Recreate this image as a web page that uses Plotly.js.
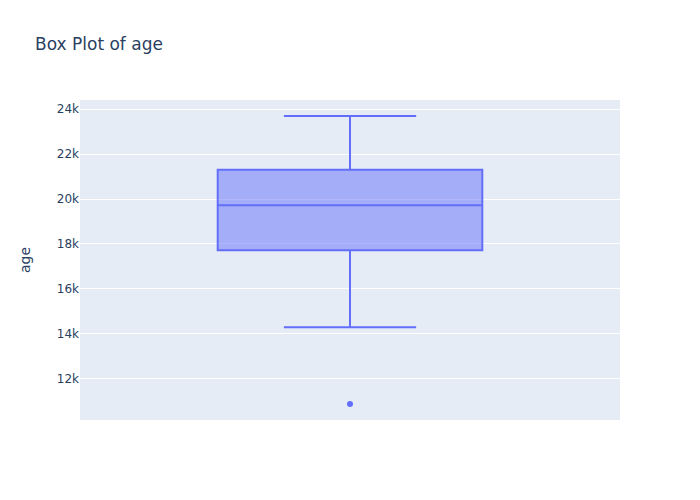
<!DOCTYPE html>
<html>
<head>
<meta charset="utf-8">
<script src="https://cdn.plot.ly/plotly-3.0.1.min.js"></script>
<style>html,body{margin:0;padding:0;background:#fff;}</style>
</head>
<body>
<div id="chart" style="width:700px;height:500px;"></div>
<script>
const lowerFence = [14290];
const q1 = [17720];
const median = [19720];
const q3 = [21300];
const upperFence = [23700];
const outliers = [[10870]];

const trace = {
  type: 'box',
  name: '',
  x0: ' ',
  q1: q1,
  median: median,
  q3: q3,
  lowerfence: lowerFence,
  upperfence: upperFence,
  y: outliers,
  boxpoints: 'all',
  jitter: 0,
  pointpos: 0,
  marker: {color: '#636efa'},
  line: {color: '#636efa'},
  fillcolor: 'rgba(99,110,250,0.5)',
  showlegend: false
};

const layout = {
  width: 700, height: 500,
  title: {text: 'Box Plot of age', x: 0.05, font: {size: 17, color: '#2a3f5f'}},
  font: {family: '"DejaVu Sans", verdana, arial, sans-serif', color: '#2a3f5f', size: 12},
  paper_bgcolor: '#ffffff',
  plot_bgcolor: '#E5ECF6',
  xaxis: {showgrid: false, zeroline: false, showticklabels: false, ticks: ''},
  yaxis: {title: {text: 'age', standoff: 22}, gridcolor: '#ffffff', gridwidth: 1, zeroline: false, ticks: ''},
  margin: {l: 80, r: 80, t: 100, b: 80}
};

Plotly.newPlot('chart', [trace], layout, {displayModeBar: false});
</script>
</body>
</html>
